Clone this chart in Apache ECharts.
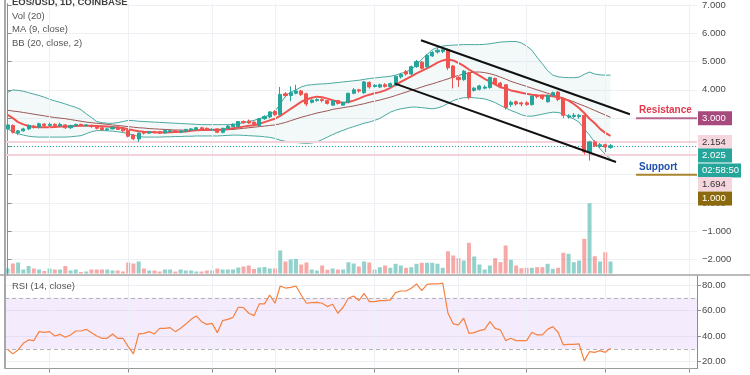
<!DOCTYPE html>
<html><head><meta charset="utf-8">
<script src="https://cdn.jsdelivr.net/npm/echarts@6/dist/echarts.min.js"></script>
<style>html,body{margin:0;padding:0;background:#fff;overflow:hidden}#c{width:750px;height:375px}</style>
</head><body><div id="c"></div>
<script>
// ---------- data ----------
const slotCount = 132; // 116 daily candles + empty space to the right
const slots = Array.from({length: slotCount}, (_, i) => 'd' + i);

// [open, close, low, high]
const candles = [
[2.62,2.76,2.58,2.80],[2.74,2.50,2.46,2.78],[2.48,2.55,2.40,2.58],[2.55,2.62,2.52,2.66],[2.62,2.74,2.58,2.78],
[2.72,2.68,2.63,2.76],[2.68,2.80,2.64,2.84],[2.79,2.74,2.70,2.82],[2.74,2.78,2.68,2.84],[2.78,2.74,2.70,2.82],
[2.72,2.78,2.68,2.84],[2.76,2.66,2.62,2.79],[2.66,2.73,2.62,2.77],[2.73,2.78,2.70,2.80],[2.78,2.75,2.72,2.80],
[2.73,2.76,2.70,2.79],[2.74,2.70,2.66,2.77],[2.72,2.64,2.60,2.74],[2.66,2.59,2.56,2.68],[2.58,2.62,2.56,2.66],
[2.62,2.68,2.60,2.70],[2.68,2.60,2.58,2.71],[2.62,2.55,2.52,2.65],[2.57,2.36,2.32,2.60],[2.40,2.27,2.22,2.44],
[2.26,2.47,2.16,2.50],[2.50,2.47,2.42,2.54],[2.47,2.52,2.44,2.55],[2.52,2.49,2.45,2.55],[2.52,2.47,2.44,2.55],
[2.48,2.56,2.45,2.58],[2.52,2.56,2.48,2.60],[2.56,2.51,2.48,2.58],[2.50,2.54,2.47,2.58],[2.54,2.60,2.50,2.62],
[2.58,2.62,2.55,2.65],[2.60,2.66,2.57,2.69],[2.66,2.62,2.58,2.69],[2.64,2.60,2.57,2.67],[2.58,2.60,2.55,2.64],
[2.62,2.50,2.47,2.64],[2.50,2.64,2.46,2.66],[2.64,2.72,2.62,2.76],[2.70,2.78,2.68,2.82],[2.70,2.88,2.68,2.90],
[2.88,2.84,2.80,2.92],[2.90,2.83,2.80,2.95],[2.86,2.78,2.74,2.88],[2.74,2.98,2.72,3.00],[2.98,3.06,2.94,3.10],
[3.04,3.22,3.00,3.25],[3.24,3.12,3.08,3.28],[3.12,3.84,3.10,4.10],[3.86,3.80,3.74,3.92],[3.80,3.90,3.60,4.12],
[3.88,3.96,3.84,4.18],[3.96,3.84,3.78,4.00],[3.86,3.50,3.42,3.90],[3.56,3.64,3.52,3.66],[3.62,3.66,3.58,3.70],
[3.66,3.62,3.56,3.70],[3.62,3.52,3.48,3.64],[3.46,3.60,3.44,3.64],[3.62,3.52,3.48,3.64],[3.46,3.56,3.44,3.58],
[3.56,3.88,3.52,3.90],[3.88,4.00,3.84,4.06],[4.00,3.96,3.90,4.04],[3.90,4.28,3.86,4.32],[4.26,4.10,4.04,4.30],
[4.12,4.16,4.08,4.20],[4.10,4.18,4.06,4.22],[4.18,4.12,4.08,4.24],[4.12,4.22,4.08,4.26],[4.16,4.48,4.12,4.50],
[4.46,4.54,4.40,4.60],[4.64,4.56,4.50,4.70],[4.56,4.82,4.52,4.86],[4.82,5.00,4.78,5.06],[4.98,4.76,4.72,5.02],
[4.82,5.22,4.78,5.26],[5.20,5.32,5.16,5.38],[5.34,5.40,5.28,5.48],[5.36,5.42,5.30,5.50],[5.42,4.78,4.70,5.46],
[4.84,4.44,4.05,4.88],[4.44,4.36,4.10,4.50],[4.36,4.66,4.32,4.70],[4.60,3.74,3.66,4.64],[3.98,4.06,3.94,4.10],
[4.02,4.14,3.98,4.18],[4.06,4.10,4.02,4.16],[4.08,4.44,4.04,4.46],[4.40,4.22,4.16,4.44],[4.24,4.12,4.06,4.28],
[4.18,3.38,3.30,4.20],[3.48,3.56,3.40,3.62],[3.58,3.50,3.44,3.62],[3.54,3.50,3.42,3.58],[3.54,3.48,3.44,3.60],
[3.48,3.78,3.44,3.80],[3.80,3.76,3.70,3.84],[3.80,3.70,3.64,3.84],[3.58,3.80,3.54,3.84],[3.80,3.90,3.76,3.94],
[3.92,3.66,3.60,3.96],[3.68,3.10,3.00,3.72],[3.04,3.08,2.98,3.14],[3.06,3.10,3.00,3.18],[3.06,3.10,2.98,3.14],
[3.10,1.80,1.72,3.12],[1.80,2.16,1.50,2.20],[2.16,2.02,1.98,2.22],[2.00,2.06,1.94,2.12],[2.06,1.98,1.80,2.10],
[1.96,2.025,1.92,2.08]
];

const volume = [
5,10,11,4,7.5,5,4,2.5,5,4, 4,7.5,3,4,1.5,2,4,4,4,4, 3,3,2,11,10,12,5,3,3,2, 4,4,2,4,3,3,2,2,3,3,
5,4,4,4,6,7,8,4.5,6,6.5, 5,5,23,12,14,14.5,9,11,4,3, 8,3.7,5,4,4,11.3,10,7,12,11, 4,6.3,8,5.7,9.7,8,5.7,6.3,9.7,10.7,
10.7,10.7,9.7,5.7,22.3,18,15.3,13,30.7,17, 9,4,8,15.3,11.3,28,13.7,8,5.3,5.7, 5.7,6.3,6.3,9.7,4.7,5.7,20.7,19.7,11.3,13,
34.7,70.3,17.3,12,21.3,12
];

const ma9 = [
3.12,3.00,2.86,2.78,2.72,2.69,2.68,2.68,2.68,2.69, 2.70,2.70,2.71,2.72,2.73,2.73,2.73,2.72,2.71,2.70,
2.69,2.67,2.65,2.61,2.57,2.54,2.52,2.51,2.50,2.49, 2.49,2.50,2.51,2.52,2.53,2.55,2.57,2.58,2.59,2.59,
2.59,2.60,2.62,2.64,2.67,2.70,2.73,2.75,2.80,2.86, 2.92,2.98,3.08,3.20,3.33,3.45,3.58,3.66,3.72,3.76,
3.74,3.69,3.63,3.58,3.54,3.57,3.62,3.69,3.77,3.83, 3.88,3.92,3.98,4.07,4.18,4.28,4.38,4.48,4.58,4.67,
4.76,4.86,4.96,5.04,5.08,5.04,4.95,4.85,4.72,4.61, 4.50,4.39,4.29,4.19,4.09,4.05,3.98,3.94,3.90,3.86,
3.83,3.81,3.80,3.79,3.77,3.74,3.70,3.62,3.50,3.36, 3.18,2.98,2.82,2.62,2.48,2.37
];

const bbUpper = [
3.91,4.00,3.98,3.95,3.90,3.85,3.80,3.74,3.67,3.61, 3.56,3.50,3.44,3.38,3.30,3.15,3.02,2.88,2.84,2.82,
2.82,2.84,2.88,2.92,2.91,2.89,2.88,2.87,2.86,2.85, 2.84,2.83,2.82,2.81,2.80,2.79,2.78,2.77,2.77,2.77,
2.77,2.77,2.77,2.78,2.80,2.84,2.88,2.92,2.98,3.04, 3.12,3.25,3.50,3.78,3.92,4.00,4.10,4.16,4.18,4.20,
4.21,4.22,4.24,4.26,4.28,4.30,4.32,4.34,4.37,4.40, 4.42,4.44,4.46,4.48,4.52,4.58,4.64,4.72,4.88,5.08,
5.25,5.42,5.50,5.55,5.57,5.58,5.59,5.60,5.60,5.60, 5.60,5.61,5.63,5.66,5.69,5.70,5.71,5.71,5.66,5.55,
5.40,5.15,4.92,4.68,4.52,4.46,4.44,4.43,4.43,4.45, 4.55,4.63,4.56,4.53,4.52,4.52
];

const bbBasis = [
3.28,3.25,3.23,3.20,3.17,3.14,3.11,3.08,3.05,3.02, 3.00,2.98,2.95,2.92,2.89,2.86,2.84,2.82,2.80,2.78,
2.76,2.74,2.72,2.70,2.68,2.66,2.65,2.63,2.62,2.61, 2.60,2.59,2.58,2.58,2.57,2.57,2.57,2.57,2.57,2.57,
2.57,2.58,2.59,2.60,2.62,2.64,2.66,2.68,2.70,2.72, 2.74,2.76,2.80,2.85,2.91,2.97,3.03,3.08,3.13,3.18,
3.22,3.26,3.31,3.34,3.37,3.40,3.43,3.47,3.51,3.56, 3.60,3.64,3.69,3.74,3.80,3.86,3.92,3.98,4.04,4.10,
4.16,4.21,4.27,4.33,4.39,4.45,4.51,4.56,4.60,4.63, 4.63,4.61,4.57,4.52,4.45,4.38,4.30,4.24,4.18,4.12,
4.06,4.00,3.94,3.88,3.82,3.76,3.70,3.64,3.58,3.50, 3.43,3.35,3.27,3.19,3.11,3.03
];

const bbLower = [
2.63,2.50,2.45,2.40,2.36,2.34,2.33,2.33,2.33,2.33, 2.33,2.33,2.34,2.36,2.38,2.45,2.52,2.56,2.56,2.55,
2.54,2.52,2.49,2.45,2.40,2.35,2.33,2.33,2.33,2.33, 2.34,2.34,2.35,2.35,2.36,2.36,2.37,2.37,2.37,2.37,
2.37,2.38,2.39,2.40,2.40,2.39,2.38,2.37,2.36,2.34, 2.32,2.28,2.22,2.18,2.16,2.14,2.12,2.11,2.12,2.16,
2.24,2.33,2.42,2.50,2.57,2.64,2.70,2.76,2.82,2.86, 2.92,2.99,3.10,3.21,3.28,3.33,3.36,3.39,3.39,3.37,
3.35,3.33,3.36,3.42,3.52,3.62,3.68,3.72,3.73,3.72, 3.70,3.68,3.62,3.55,3.45,3.36,3.27,3.20,3.12,3.07,
3.07,3.10,3.14,3.18,3.21,3.20,3.15,3.05,2.97,2.86, 2.62,2.40,2.15,1.92,1.72,1.56
];

const rsi = [
29.5,26.1,29.2,34.4,37.0,36.5,43.5,43.0,43.5,40.1, 41.4,39.1,40.9,44.0,44.0,45.3,42.7,40.1,38.3,38.3,
41.7,38.3,38.3,31.8,26.1,41.7,42.2,43.5,41.7,46.1, 46.1,46.6,43.5,46.1,49.5,53.1,55.8,51.3,49.2,50.0,
42.7,52.1,53.1,54.7,62.6,62.3,57.9,56.0,65.2,65.2, 72.2,65.7,79.2,77.6,78.1,79.2,72.2,65.7,66.2,66.4,
65.7,63.1,64.9,57.9,62.6,69.6,71.4,67.8,73.5,67.0, 67.0,67.8,67.8,68.3,74.0,75.3,75.3,77.4,80.8,75.6,
80.5,80.8,80.8,81.4,57.9,49.6,48.8,54.0,42.2,42.7, 44.3,45.3,51.3,46.1,44.8,36.5,38.3,36.5,36.5,36.5,
43.0,40.9,40.9,45.3,47.4,43.0,33.1,33.6,33.6,33.9, 20.6,27.9,27.3,28.6,27.3,30.5
];

// axis tick labels
const priceTicks = [-2, -1, 0, 1, 2, 3, 4, 5, 6, 7];
const rsiTicks = [20, 40, 60, 80];
const rsiBand = [30, 70];

// drawings (x in slot units, y in price)
const channelUpper = [[78.85, 5.755], [118.7, 3.139]];
const channelLower = [[73.9, 4.22], [116.05, 1.447]];
const resistanceLine = [[119.87, 3.0], [131.5, 3.0]];
const supportLine = [[119.87, 1.0], [131.5, 1.0]];
const lastPrice = 2.025;
const bandHigh = 2.154;
const bandLow = 1.694;
const countdown = '02:58:50';
const gridDays = [8, 23, 39, 51, 70, 86, 99, 114, 130];

// ---------- chart ----------
const UP = '#26a69a', DOWN = '#ef5350';
const FONT = '"Liberation Sans", Arial, sans-serif';
const chart = echarts.init(document.getElementById('c'), null, {renderer: 'canvas'});

const bandDiff = bbUpper.map((u, i) => +(u - bbLower[i]).toFixed(4));
const volData = volume.map((v, i) => ({
  value: v,
  itemStyle: {color: candles[i][1] >= candles[i][0] ? 'rgba(38,166,154,0.5)' : 'rgba(239,83,80,0.5)'}
}));
const vGrid = gridDays.map(d => ({xAxis: slots[d]}));
const gridLineStyle = {color: '#edf1f6', width: 1, type: 'solid'};

const fmtPrice = v => (v < -1e-9 ? '\u2212' : '') + Math.abs(v).toFixed(3);

chart.setOption({
  animation: false,
  backgroundColor: '#fff',
  grid: [
    {left: 5, right: 53, top: 0, bottom: 100},        // price
    {left: 5, right: 53, top: 180, bottom: 101.5},    // volume overlay
    {left: 5, right: 53, top: 275.5, bottom: 6.5}     // RSI
  ],
  xAxis: [
    {type: 'category', gridIndex: 0, data: slots, boundaryGap: true, show: false},
    {type: 'value', gridIndex: 0, min: -0.5, max: slotCount - 0.5, show: false},
    {type: 'category', gridIndex: 1, data: slots, boundaryGap: true, show: false},
    {type: 'category', gridIndex: 2, data: slots, boundaryGap: true,
      axisLine: {show: true, lineStyle: {color: '#9a9a9a', width: 1}},
      axisTick: {show: true, alignWithLabel: true, length: 4, lineStyle: {color: '#8a8a8a'},
        interval: (idx) => gridDays.indexOf(idx) >= 0},
      axisLabel: {show: false}, splitLine: {show: false}}
  ],
  yAxis: [
    {type: 'value', gridIndex: 0, position: 'right', min: -2.546, max: 7.046,
      axisLine: {show: true, lineStyle: {color: '#8c8c8c'}},
      axisTick: {show: true, length: 4, lineStyle: {color: '#8c8c8c'}, customValues: priceTicks},
      axisLabel: {formatter: fmtPrice, color: '#4a4a4a', fontSize: 9.5, fontFamily: FONT, margin: 5,
        customValues: priceTicks},
      splitLine: {show: true, lineStyle: gridLineStyle}},
    {type: 'value', gridIndex: 1, min: 0, max: 93.5, show: false},
    {type: 'value', gridIndex: 2, position: 'right', min: 14.66, max: 87.43,
      axisLine: {show: true, lineStyle: {color: '#8c8c8c'}},
      axisTick: {show: true, length: 4, lineStyle: {color: '#8c8c8c'}, customValues: rsiTicks},
      axisLabel: {formatter: v => v.toFixed(2), color: '#4a4a4a', fontSize: 9.5, fontFamily: FONT, margin: 5,
        customValues: rsiTicks},
      splitLine: {show: true, lineStyle: gridLineStyle}}
  ],
  series: [
    {name: 'bbBase', type: 'line', xAxisIndex: 0, yAxisIndex: 0, stack: 'bb', data: bbLower,
      symbol: 'none', lineStyle: {opacity: 0}, silent: true, z: 1,
      markLine: {silent: true, symbol: ['none', 'none'], label: {show: false},
        lineStyle: gridLineStyle, data: vGrid}},
    {name: 'bbFill', type: 'line', xAxisIndex: 0, yAxisIndex: 0, stack: 'bb', data: bandDiff,
      symbol: 'none', lineStyle: {opacity: 0}, areaStyle: {color: 'rgba(25,135,135,0.07)'}, silent: true, z: 1},
    {name: 'volume', type: 'bar', xAxisIndex: 2, yAxisIndex: 1, data: volData, barWidth: '76%', silent: true, z: 2},
    {name: 'bbUpper', type: 'line', xAxisIndex: 0, yAxisIndex: 0, data: bbUpper, symbol: 'none',
      lineStyle: {color: '#4aa9a0', width: 1}, silent: true, z: 3},
    {name: 'bbLower', type: 'line', xAxisIndex: 0, yAxisIndex: 0, data: bbLower, symbol: 'none',
      lineStyle: {color: '#4aa9a0', width: 1}, silent: true, z: 3},
    {name: 'bbBasis', type: 'line', xAxisIndex: 0, yAxisIndex: 0, data: bbBasis, symbol: 'none',
      lineStyle: {color: '#9e5656', width: 1}, silent: true, z: 3},
    {name: 'ma9', type: 'line', xAxisIndex: 0, yAxisIndex: 0, data: ma9, symbol: 'none',
      lineStyle: {color: '#ef5350', width: 2}, silent: true, z: 4},
    {name: 'price', type: 'candlestick', xAxisIndex: 0, yAxisIndex: 0, data: candles, barWidth: 3.6,
      itemStyle: {color: UP, color0: DOWN, borderColor: UP, borderColor0: DOWN, borderWidth: 1}, z: 5,
      markLine: {silent: true, symbol: ['none', 'none'], label: {show: false}, data: [
        {yAxis: bandHigh, lineStyle: {color: '#f4d2da', width: 2, type: 'solid'}},
        {yAxis: bandLow, lineStyle: {color: '#f4d2da', width: 2, type: 'solid'}},
        {yAxis: lastPrice, lineStyle: {color: '#26a69a', width: 1, type: [1, 2]}}
      ]}},
    {name: 'channelUpper', type: 'line', xAxisIndex: 1, yAxisIndex: 0, data: channelUpper, symbol: 'none',
      lineStyle: {color: '#111', width: 2}, silent: true, z: 6},
    {name: 'channelLower', type: 'line', xAxisIndex: 1, yAxisIndex: 0, data: channelLower, symbol: 'none',
      lineStyle: {color: '#111', width: 2}, silent: true, z: 6},
    {name: 'resistance', type: 'line', xAxisIndex: 1, yAxisIndex: 0, data: resistanceLine, symbol: 'none',
      lineStyle: {color: '#b7648f', width: 2}, silent: true, z: 6},
    {name: 'support', type: 'line', xAxisIndex: 1, yAxisIndex: 0, data: supportLine, symbol: 'none',
      lineStyle: {color: '#a8842f', width: 2}, silent: true, z: 6},
    {name: 'rsi', type: 'line', xAxisIndex: 3, yAxisIndex: 2, data: rsi, symbol: 'none',
      lineStyle: {color: '#f7813f', width: 1.2}, silent: true, z: 5,
      markArea: {silent: true, itemStyle: {color: 'rgba(156,86,230,0.11)'},
        data: [[{yAxis: rsiBand[0]}, {yAxis: rsiBand[1]}]]},
      markLine: {silent: true, symbol: ['none', 'none'], label: {show: false}, data: [
        ...vGrid.map(g => Object.assign({lineStyle: gridLineStyle}, g)),
        {yAxis: rsiBand[1], lineStyle: {color: '#b4b4b4', width: 1, type: [4, 3]}},
        {yAxis: rsiBand[0], lineStyle: {color: '#b4b4b4', width: 1, type: [4, 3]}}
      ]}}
  ]
});

// ---------- overlay texts & price tags ----------
const px = (x, y) => chart.convertToPixel({xAxisIndex: 1, yAxisIndex: 0}, [x, y]);
const yHigh = px(0, bandHigh)[1];
const tags = [
  {text: fmtPrice(resistanceLine[0][1]), bg: '#a8497d', fg: '#fff', cy: px(0, resistanceLine[0][1])[1], w: 34},
  {text: fmtPrice(bandHigh), bg: '#f5d6de', fg: '#333', cy: yHigh, w: 34},
  {text: fmtPrice(lastPrice), bg: '#26a69a', fg: '#fff', cy: yHigh + 13.5, w: 34},
  {text: countdown, bg: '#26a69a', fg: '#fff', cy: yHigh + 28.5, w: 43},
  {text: fmtPrice(bandLow), bg: '#f5d6de', fg: '#333', cy: yHigh + 42, w: 34},
  {text: fmtPrice(supportLine[0][1]), bg: '#8b6a0e', fg: '#fff', cy: yHigh + 56.5, w: 34}
];
const graphics = [];
graphics.push({type: 'rect', shape: {x: 4, y: 0, width: 2, height: 369}, style: {fill: '#a8a8a8'}, silent: true, z: 50});
graphics.push({type: 'line', shape: {x1: 0, y1: 275, x2: 750, y2: 275}, style: {stroke: '#a3a3a3', lineWidth: 1.5}, silent: true, z: 50});
const legend = [
  {t: 'EOS/USD, 1D, COINBASE', y: 2.5, w: 'bold', c: '#3d3d3d'},
  {t: 'Vol (20)', y: 16, w: 'normal', c: '#555'},
  {t: 'MA (9, close)', y: 29.5, w: 'normal', c: '#555'},
  {t: 'BB (20, close, 2)', y: 43, w: 'normal', c: '#555'},
  {t: 'RSI (14, close)', y: 286.5, w: 'normal', c: '#555'}
];
legend.forEach(l => graphics.push({type: 'text', x: 12, y: l.y, silent: true, z: 60,
  style: {text: l.t, fill: l.c, font: l.w + ' 9.5px ' + FONT, textVerticalAlign: 'middle'}}));
tags.forEach(t => {
  graphics.push({type: 'rect', shape: {x: 698, y: t.cy - 7, width: t.w, height: 14}, style: {fill: t.bg}, silent: true, z: 70});
  graphics.push({type: 'text', x: 702, y: t.cy, silent: true, z: 71,
    style: {text: t.text, fill: t.fg, font: '9.5px ' + FONT, textVerticalAlign: 'middle'}});
});
const rp = px(resistanceLine[0][0], resistanceLine[0][1]);
const sp = px(supportLine[0][0], supportLine[0][1]);
graphics.push({type: 'text', x: rp[0] + 3, y: rp[1] - 7.5, silent: true, z: 60,
  style: {text: 'Resistance', fill: '#e2384b', font: 'bold 10px ' + FONT, textVerticalAlign: 'middle'}});
graphics.push({type: 'text', x: sp[0] + 3, y: sp[1] - 7, silent: true, z: 60,
  style: {text: 'Support', fill: '#1f4fae', font: 'bold 10px ' + FONT, textVerticalAlign: 'middle'}});
chart.setOption({graphic: graphics});
</script>
</body></html>
